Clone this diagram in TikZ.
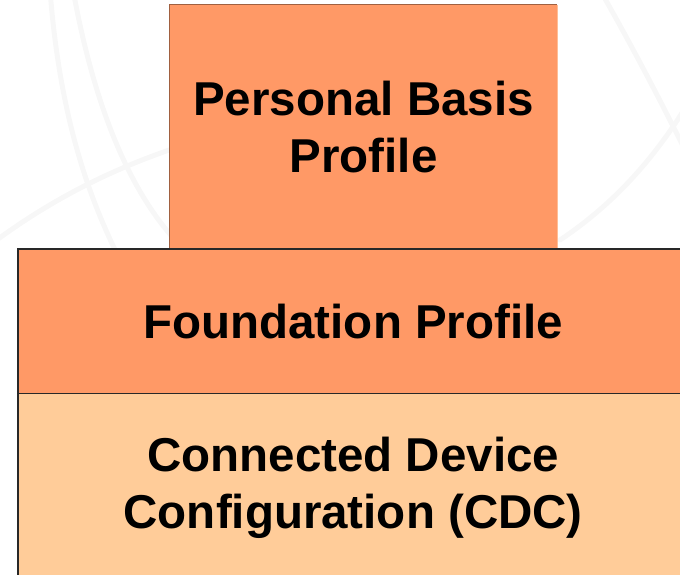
\documentclass[tikz,border=0pt]{standalone}
\usepackage{fontspec}
\setmainfont{Liberation Sans}
\definecolor{profileorange}{RGB}{255, 153, 102}
\definecolor{configpeach}{RGB}{255, 204, 153}
\definecolor{edgebrown}{RGB}{160, 96, 64}
\definecolor{edgelight}{RGB}{255, 190, 150}
\definecolor{edgedark}{RGB}{40, 40, 40}
\usetikzlibrary{positioning, calc}
\tikzset{
  layerbox/.style={inner sep=0pt, align=center, font=\fontsize{47.5bp}{57bp}\selectfont\bfseries},
  watermark/.style={draw=black!3, line width=5bp, line cap=round}
}

\begin{document}
\begin{tikzpicture}[x=1bp, y=-1bp]
  \useasboundingbox (0,0) rectangle (680,575);
  \clip (0,0) rectangle (680,575);

  % faint globe in the background
  \draw[watermark] (50,-10) .. controls (60,120) and (90,200) .. (120,260);
  \draw[watermark] (73,-10) .. controls (95,110) and (130,190) .. (175,240);
  \draw[watermark] (-10,245) .. controls (50,200) and (110,170) .. (175,148);
  \draw[watermark] (600,-10) .. controls (640,60) and (670,120) .. (690,160);
  \draw[watermark] (560,240) .. controls (620,200) and (660,150) .. (690,100);

  % the three layers
  \node[layerbox, fill=profileorange, minimum width=387bp, minimum height=244bp] (pbp) at (363.5,127) {Personal Basis\\Profile};
  \draw[edgebrown, line width=1.3bp] (pbp.south west) -- (pbp.north west) -- (pbp.north east);
  \draw[edgelight, line width=1.3bp] (pbp.north east) -- (pbp.south east);

  \node[layerbox, fill=profileorange, minimum width=670bp, minimum height=144bp, anchor=north west] (fp) at (18,249) {Foundation Profile};
  \node[layerbox, fill=configpeach, minimum width=670bp, minimum height=190bp, anchor=north west] (cdc) at (18,393) {Connected Device\\Configuration (CDC)};

  \draw[edgedark, line width=1.3bp] (cdc.south west) -- (fp.north west) -- (fp.north east);
  \draw[edgedark, line width=1.3bp] (fp.south west) -- (fp.south east);
\end{tikzpicture}
\end{document}
